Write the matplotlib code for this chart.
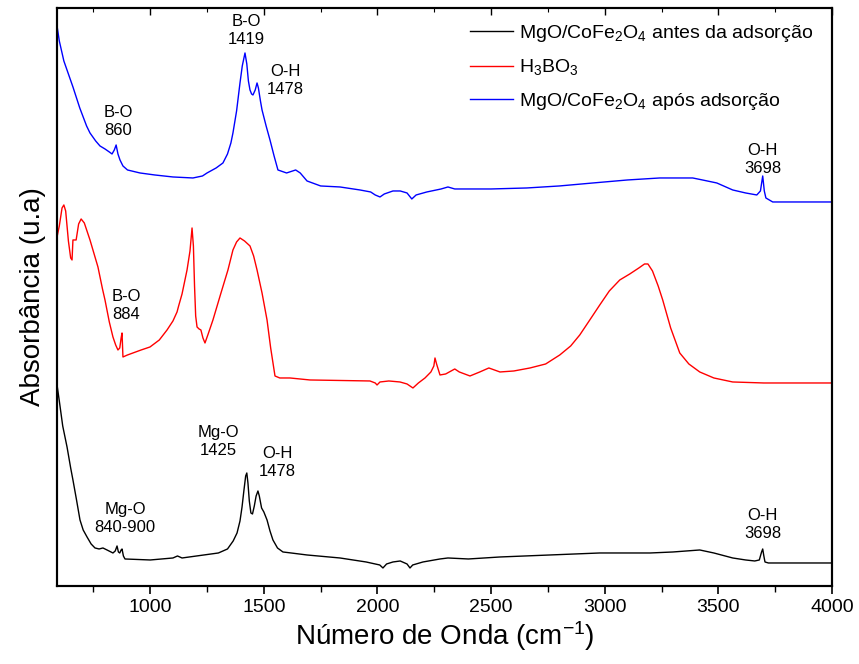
import matplotlib
matplotlib.use("Agg")
import matplotlib.pyplot as plt
from matplotlib.ticker import MultipleLocator, NullFormatter

plt.rcParams["font.family"] = ["Liberation Sans", "DejaVu Sans"]
plt.rcParams["mathtext.default"] = "regular"

# ── spectra (wavenumber, offset absorbance, arbitrary units) ─────────────────
black_x = [590, 600, 615, 634, 650, 660, 675, 691, 705, 722, 740, 757, 775, 792,
           810, 836, 846, 854, 860, 866, 872, 876, 882, 889, 1000, 1100, 1120,
           1140, 1300, 1340, 1365, 1382, 1395, 1404, 1412, 1420, 1425, 1430,
           1436, 1443, 1450, 1458, 1466, 1474, 1480, 1490, 1500, 1514, 1527,
           1540, 1560, 1584, 1620, 1690, 1835, 1950, 1990, 2010, 2024, 2040,
           2068, 2100, 2130, 2143, 2155, 2200, 2275, 2310, 2400, 2539, 2978,
           3200, 3300, 3418, 3480, 3563, 3620, 3660, 3680, 3690, 3695, 3700,
           3705, 3720, 4000]
black_y = [201, 185, 160, 139, 118, 106, 87, 66, 56, 49, 42, 38, 37, 38,
           36, 33, 35, 40, 34, 33, 36, 37, 30, 27, 26, 28, 30,
           28, 33, 37, 45, 53, 65, 79, 95, 110, 113, 103,
           85, 73, 72, 80, 90, 95, 90, 78, 74, 66, 55,
           46, 38, 34, 33, 31, 28, 24, 22, 21, 18, 22,
           24, 25, 22, 18, 21, 24, 27, 28, 27, 29, 33,
           33, 34, 36, 33, 28, 26, 25, 26, 34, 37, 30,
           24, 23, 23]

red_x = [590, 600, 612, 620, 628, 640, 650, 656, 660, 674, 685, 696, 710, 735,
         770, 790, 801, 820, 836, 848, 858, 866, 872, 876, 880, 900, 924, 960,
         999, 1040, 1074, 1100, 1118, 1125, 1140, 1162, 1175, 1184, 1190, 1195,
         1200, 1206, 1215, 1223, 1232, 1241, 1255, 1276, 1310, 1342, 1364, 1380,
         1395, 1415, 1439, 1455, 1470, 1492, 1514, 1530, 1549, 1570, 1615, 1703,
         1967, 1990, 1998, 2011, 2050, 2099, 2130, 2156, 2180, 2209, 2235, 2248,
         2253, 2260, 2275, 2300, 2340, 2360, 2407, 2450, 2490, 2539, 2600, 2671,
         2740, 2802, 2850, 2890, 2940, 2978, 3020, 3066, 3110, 3150, 3175, 3190,
         3210, 3235, 3255, 3290, 3330, 3370, 3418, 3480, 3563, 3700, 4000]
red_y = [349, 360, 378, 381, 375, 345, 328, 326, 346, 346, 362, 367, 363, 346,
         319, 297, 286, 264, 249, 241, 236, 238, 248, 253, 229, 231, 233, 236,
         239, 246, 256, 265, 274, 280, 292, 316, 335, 358, 340, 300,
         270, 259, 257, 256, 248, 243, 252, 266, 292, 316, 336, 344,
         348, 345, 340, 330, 316, 293, 266, 238, 210, 208, 208, 206,
         205, 203, 201, 204, 205, 204, 202, 198, 203, 208, 214, 220,
         228, 222, 211, 212, 217, 214, 210, 214, 218, 214, 215, 218,
         222, 231, 240, 251, 268, 281, 295, 306, 312, 318, 322, 322,
         315, 300, 286, 258, 233, 222, 214, 208, 204, 203, 203]

blue_x = [590, 600, 620, 640, 660, 690, 720, 735, 760, 779, 801, 820, 832, 842,
          850, 858, 867, 880, 900, 955, 1020, 1100, 1188, 1230, 1250, 1290,
          1320, 1340, 1355, 1364, 1380, 1395, 1405, 1417, 1425, 1432, 1439,
          1446, 1452, 1462, 1470, 1476, 1485, 1492, 1510, 1527, 1545, 1562,
          1600, 1640, 1660, 1690, 1750, 1835, 1923, 1970, 1990, 2011, 2030,
          2068, 2100, 2130, 2151, 2170, 2217, 2280, 2310, 2340, 2376, 2500,
          2657, 2800, 2948, 3100, 3242, 3387, 3430, 3493, 3563, 3620, 3669,
          3685, 3695, 3702, 3709, 3739, 4000]
blue_y = [560, 545, 525, 512, 499, 478, 460, 453, 445, 440, 437, 434, 432, 436,
          441, 432, 426, 420, 416, 413, 411, 409, 408, 410, 413, 418,
          423, 432, 443, 453, 475, 503, 520, 533, 522, 505, 496,
          492, 491, 496, 503, 498, 485, 476, 460, 446, 430, 416,
          413, 416, 413, 405, 400, 399, 396, 394, 391, 389, 392,
          395, 395, 393, 387, 391, 394, 397, 399, 397, 397, 397,
          398, 400, 403, 406, 408, 408, 406, 403, 396, 393, 391,
          395, 410, 395, 388, 384, 384]

labels = [r"MgO/CoFe$_2$O$_4$ antes da adsorção",
          r"H$_3$BO$_3$",
          r"MgO/CoFe$_2$O$_4$ após adsorção"]

# band labels: (text, wavenumber, height)
bands = [
    ("B-O\n1419", 1421, 555),
    ("O-H\n1478", 1593, 505),
    ("B-O\n860", 858, 464),
    ("O-H\n3698", 3695, 426),
    ("B-O\n884", 893, 280),
    ("Mg-O\n1425", 1298, 144),
    ("O-H\n1478", 1558, 123),
    ("Mg-O\n840-900", 889, 67),
    ("O-H\n3698", 3695, 61),
]

fig = plt.figure(figsize=(8.59, 6.64), dpi=100)
ax = fig.add_axes([0.0664, 0.1175, 0.9022, 0.8705])

ax.plot(black_x, black_y, color="black", lw=1.0, label=labels[0])
ax.plot(red_x, red_y, color="#ff0000", lw=1.0, label=labels[1])
ax.plot(blue_x, blue_y, color="#0000ff", lw=1.0, label=labels[2])

for text, x, y in bands:
    ax.text(x, y, text, ha="center", va="center", fontsize=12, linespacing=1.25)

ax.set_xlim(590, 4000)
ax.set_ylim(0, 578)
ax.set_yticks([])
ax.xaxis.set_major_locator(MultipleLocator(500))
ax.xaxis.set_minor_locator(MultipleLocator(250))
ax.tick_params(axis="x", which="major", direction="out", length=6, width=1.2,
               labelsize=14)
ax.tick_params(axis="x", which="minor", direction="out", length=4, width=1.0)
for sp in ax.spines.values():
    sp.set_linewidth(1.5)

# mirrored ticks on top, pointing inward
top = ax.twiny()
top.set_xlim(ax.get_xlim())
top.xaxis.set_major_locator(MultipleLocator(500))
top.xaxis.set_minor_locator(MultipleLocator(250))
top.xaxis.set_major_formatter(NullFormatter())
top.tick_params(axis="x", which="major", direction="in", length=5, width=1.0)
top.tick_params(axis="x", which="minor", direction="in", length=3, width=0.8)
for sp in top.spines.values():
    sp.set_linewidth(1.5)

ax.set_xlabel("Número de Onda (cm$^{-1}$)", fontsize=20, labelpad=2)
ax.set_ylabel("Absorbância (u.a)", fontsize=20, labelpad=8)

ax.legend(loc="upper left", bbox_to_anchor=(0.515, 0.998), frameon=False,
          fontsize=14, handlelength=2.2, handletextpad=0.35,
          labelspacing=0.7, borderpad=0.2)

fig.savefig("out.png", dpi=100)
